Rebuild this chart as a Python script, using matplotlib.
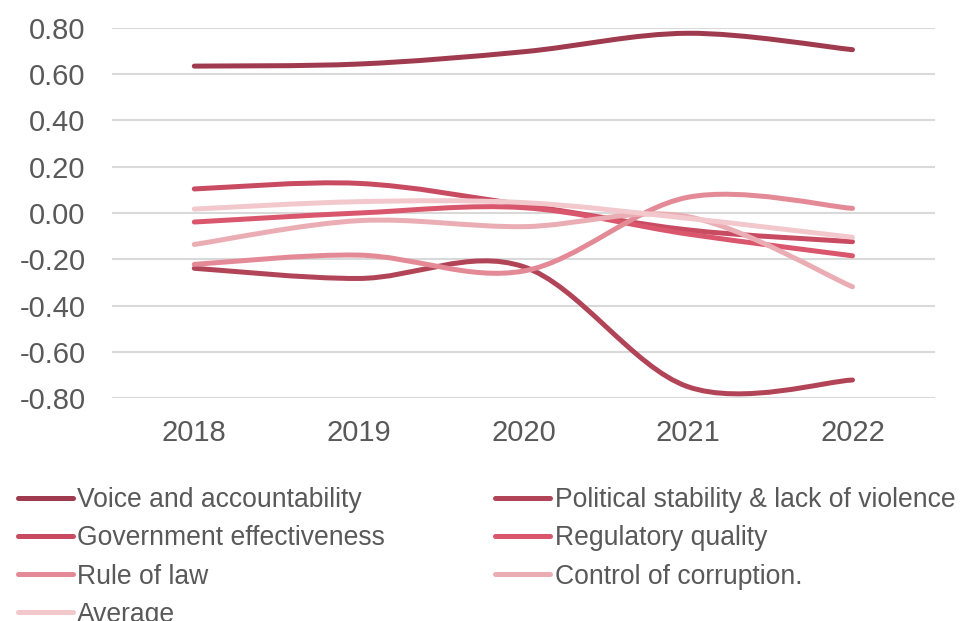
import numpy as np
import matplotlib
matplotlib.use("Agg")
import matplotlib.pyplot as plt
from matplotlib.path import Path
from matplotlib.patches import PathPatch
from matplotlib.lines import Line2D

plt.rcParams["font.family"] = ["Liberation Sans", "DejaVu Sans"]

years = ["2018", "2019", "2020", "2021", "2022"]
voice = [0.635, 0.644, 0.697, 0.777, 0.706]
political = [-0.239, -0.283, -0.232, -0.751, -0.722]
government = [0.104, 0.128, 0.035, -0.073, -0.124]
regulatory = [-0.039, 0.0, 0.023, -0.091, -0.185]
rule_of_law = [-0.222, -0.182, -0.251, 0.068, 0.02]
corruption = [-0.136, -0.033, -0.059, -0.016, -0.319]
average = [0.017, 0.049, 0.045, -0.023, -0.105]

names = ["Voice and accountability", "Political stability & lack of violence",
         "Government effectiveness", "Regulatory quality", "Rule of law",
         "Control of corruption.", "Average"]
series = [voice, political, government, regulatory, rule_of_law, corruption, average]
colors = ["#A03A4E", "#B24458", "#C84B62", "#DA566D", "#E38A96", "#EAADB4", "#F2C8CD"]

TEXT = "#595959"
LW = 3.6


def smooth_path(x, y):
    # Excel-like smoothed line: cubic bezier segments through the points
    pts = np.column_stack([x, y]).astype(float)
    n = len(pts)
    verts = [pts[0]]
    codes = [Path.MOVETO]
    for i in range(n - 1):
        p0 = pts[i - 1] if i > 0 else pts[i]
        p1 = pts[i]
        p2 = pts[i + 1]
        p3 = pts[i + 2] if i + 2 < n else pts[i + 1]
        c1 = p1 + (p2 - p0) / 6.0
        c2 = p2 - (p3 - p1) / 6.0
        verts += [c1, c2, p2]
        codes += [Path.CURVE4] * 3
    return Path(verts, codes)


fig = plt.figure(figsize=(9.6, 6.21), dpi=100)
ax = fig.add_axes([0.1167, 0.359, 0.857, 0.596])

x = np.arange(len(years))
for vals, c in zip(series, colors):
    patch = PathPatch(smooth_path(x, vals), facecolor="none", edgecolor=c,
                      lw=LW, capstyle="round", joinstyle="round", zorder=3)
    ax.add_patch(patch)

yt = np.round(np.arange(-0.8, 0.81, 0.2), 2)
ax.set_xlim(-0.5, len(years) - 0.5)
ax.set_ylim(-0.8, 0.8)
ax.set_yticks(yt)
ax.set_yticklabels([f"{abs(v):.2f}" if v == 0 else f"{v:.2f}" for v in yt])
ax.set_xticks(x)
ax.set_xticklabels(years)
ax.yaxis.grid(True, color="#D9D9D9", lw=1.5)
ax.set_axisbelow(True)
for s in ax.spines.values():
    s.set_visible(False)
ax.tick_params(length=0, labelsize=21, colors=TEXT)
ax.tick_params(axis="x", pad=15)
ax.tick_params(axis="y", pad=19)

handles = [Line2D([], [], color=c, lw=LW, solid_capstyle="round") for c in colors]
order = [0, 2, 4, 6, 1, 3, 5]
leg = fig.legend([handles[i] for i in order], [names[i] for i in order],
                 ncol=2, loc="upper left", bbox_to_anchor=(0.019, 0.2155),
                 frameon=False, fontsize=19.1, handlelength=2.05, handletextpad=0.18,
                 columnspacing=4.15, labelspacing=0.46, borderaxespad=0, borderpad=0)
for t in leg.get_texts():
    t.set_color(TEXT)

fig.savefig("out.png", dpi=100)
